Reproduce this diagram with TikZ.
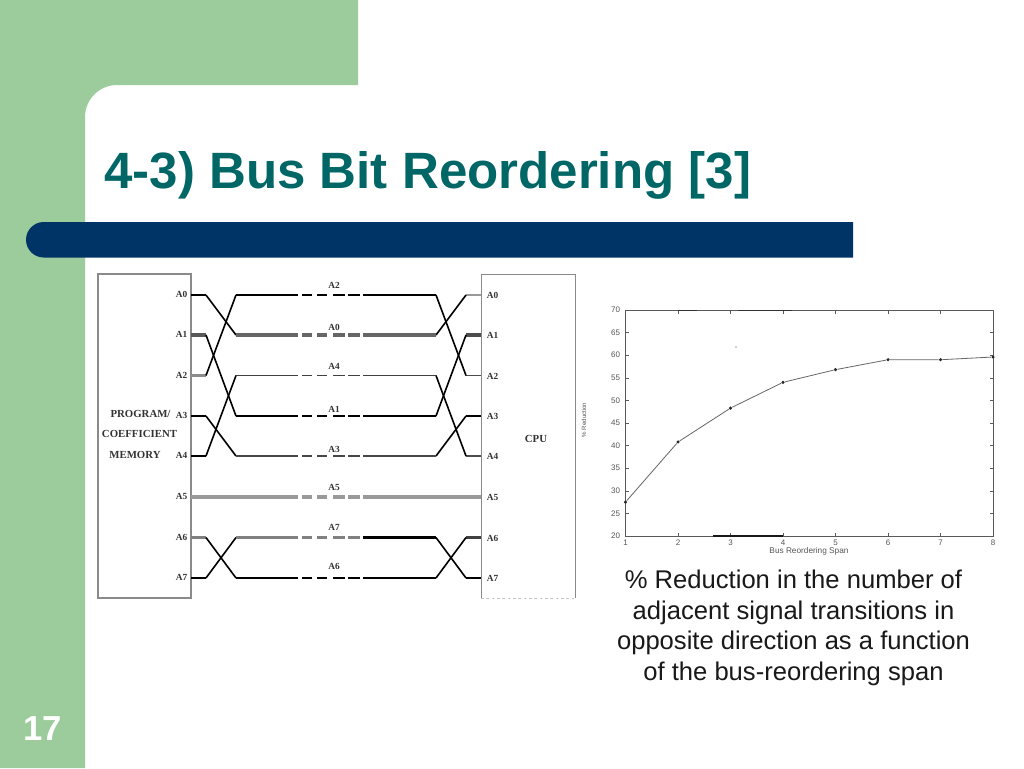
\documentclass[tikz,border=0pt]{standalone}
\usepackage{fontspec}
\setmainfont{Liberation Sans}
\newfontfamily\blurserif{Liberation Serif}
\definecolor{slidegreen}{HTML}{9CCC9C}
\definecolor{barblue}{HTML}{003366}
\definecolor{titleteal}{HTML}{006666}
\definecolor{framegray}{HTML}{8A8A8A}
\definecolor{plotgray}{HTML}{555555}
\tikzset{
  px/.style={x=0.75pt,y=-0.75pt},
  buslabel/.style={font=\blurserif\bfseries\fontsize{7pt}{7pt}\selectfont,text=black!80,inner sep=0pt},
  boxlabel/.style={font=\blurserif\bfseries\fontsize{8.1pt}{8pt}\selectfont,text=black!80,inner sep=0pt},
  cross/.style={line width=1.2pt,black,line join=round},
  midrun/.style={dash pattern=on 46.5pt off 3pt on 7.5pt off 3.75pt on 7.5pt off 4.5pt on 9pt off 2.25pt on 9pt off 2.25pt on 54.75pt},
  stub/.style={line width=#1},
  plotlabel/.style={font=\fontsize{6pt}{6pt}\selectfont,text=plotgray,inner sep=0pt},
  plotframe/.style={draw=black!65,line width=0.45pt},
  plotpt/.style={circle,fill=black!85,inner sep=0pt,minimum size=2.6pt},
}
\begin{document}
\begin{tikzpicture}[px]
\useasboundingbox (0,0) rectangle (1024,768);
% slide background
\fill[white] (0,0) rectangle (1024,768);
\fill[slidegreen] (0,0) -- (358,0) -- (358,85) -- (117,85) arc[start angle=90,end angle=180,x radius=32,y radius=-32] -- (85,768) -- (0,768) -- cycle;
\fill[barblue] (853,222) -- (853,257.5) -- (43.75,257.5) arc[start angle=-90,end angle=-270,x radius=17.75,y radius=-17.75] -- cycle;
\node[anchor=base west,inner sep=0pt,text=titleteal,font=\bfseries\fontsize{38.3pt}{40pt}\selectfont] (title) at (104,188.5) {4-3) Bus Bit Reordering [3]};
\node[anchor=base,inner sep=0pt,text=white,font=\bfseries\fontsize{26pt}{28pt}\selectfont] (pageno) at (43,740) {17};

% bus boxes
\node[draw=framegray,line width=0.8pt,minimum width=69.75pt,minimum height=243pt,inner sep=0pt] (mem) at (144.5,436) {};
\draw[framegray,line width=0.7pt] (481,598) -- (481,274) -- (575,274) -- (575,598);
\draw[framegray!50,line width=0.6pt,dash pattern=on 2pt off 2pt] (481,598) -- (575,598);

\foreach \i/\y in {0/295,1/335,2/375.5,3/416,4/456,5/497,6/537.5,7/578}{
  \coordinate (L\i) at (191,\y);
  \coordinate (B\i) at (206,\y);
  \coordinate (C\i) at (236,\y);
  \coordinate (D\i) at (436,\y);
  \coordinate (E\i) at (466,\y);
  \coordinate (R\i) at (481,\y);
  \node[buslabel] (ll\i) at (181.5,\y-0.5) {A\i};
  \node[buslabel] (rl\i) at (492.5,\y+0.5) {A\i};
}
% left stubs
\draw[stub=1.2pt,black] (L0)--(B0);
\draw[stub=2.6pt,black!65] (L1)--(B1);
\draw[stub=1.8pt,black!45] (L2)--(B2);
\draw[stub=1.4pt,black] (L3)--(B3);
\draw[stub=1.2pt,black] (L4)--(B4);
\draw[stub=2.6pt,black!40] (L5)--(C5);
\draw[stub=2.6pt,black!40] (D5)--(R5);
\draw[stub=2.4pt,black!50] (L6)--(B6);
\draw[stub=1.2pt,black] (L7)--(B7);
% right stubs
\draw[stub=1.5pt,black!40] (E0)--(R0);
\draw[stub=2.4pt,black!70] (E1)--(R1);
\draw[stub=1.2pt,black!70] (E2)--(R2);
\draw[stub=2pt,black] (E3)--(R3);
\draw[stub=1.6pt,black!70] (E4)--(R4);
\draw[stub=2.2pt,black!75] (E6)--(R6);
\draw[stub=1.2pt,black] (E7)--(R7);
% crossings left
\draw[cross] (B0)--(C1);
\draw[cross] (B1)--(C3);
\draw[cross] (B2)--(C0);
\draw[cross] (B3)--(C4);
\draw[cross] (B4)--(C2);
\draw[cross] (B6)--(C7);
\draw[cross] (B7)--(C6);
% crossings right
\draw[cross] (D0)--(E2);
\draw[cross] (D1)--(E0);
\draw[cross] (D2)--(E4);
\draw[cross] (D3)--(E1);
\draw[cross] (D4)--(E3);
\draw[cross] (D6)--(E7);
\draw[cross] (D7)--(E6);
% middle runs
\draw[midrun,line width=1.4pt,black!40,yshift=-1pt] (C0)--(D0);
\draw[midrun,line width=1.2pt,black,yshift=0.6pt] (C0)--(D0);
\draw[midrun,line width=2.5pt,black!60] (C1)--(D1);
\draw[midrun,line width=1.3pt,black!75] (C2)--(D2);
\draw[midrun,line width=2.2pt,black] (C3)--(D3);
\draw[midrun,line width=2pt,black!72] (C4)--(D4);
\draw[midrun,line width=2.6pt,black!40] (C5)--(D5);
\draw[midrun,line width=2.6pt,black!50] (C6)--(D6);
\coordinate (M6) at (363,537.5);
\draw[line width=2.4pt,black] (M6)--(D6);
\draw[midrun,line width=1.5pt,black] (C7)--(D7);
% middle labels
\node[buslabel] (m0) at (334,285) {A2};
\node[buslabel] (m1) at (334,327) {A0};
\node[buslabel] (m2) at (334,366) {A4};
\node[buslabel] (m3) at (334,409) {A1};
\node[buslabel] (m4) at (334,449) {A3};
\node[buslabel] (m5) at (334,487) {A5};
\node[buslabel] (m6) at (334,527) {A7};
\node[buslabel] (m7) at (334,566) {A6};
% box labels
\node[boxlabel,anchor=center] (p1) at (140.5,414) {PROGRAM/};
\node[boxlabel,anchor=center] (p2) at (139.5,433.5) {COEFFICIENT};
\node[boxlabel,anchor=center] (p3) at (135,455) {MEMORY};
\node[boxlabel,anchor=center] (cpu) at (536,439) {CPU};

% chart
\coordinate (o) at (625.5,536);
\coordinate (ne) at (993,310);
\draw[plotframe] (o) rectangle (ne);
\foreach \n in {1,...,8}{
  \pgfmathsetmacro{\xx}{625.5+(\n-1)*52.5}
  \draw[plotframe] (\xx,536) -- (\xx,532.5);
  \draw[plotframe] (\xx,310) -- (\xx,313.5);
  \node[plotlabel] (xt\n) at (\xx,543) {\n};
}
\foreach \v in {20,25,...,70}{
  \pgfmathsetmacro{\yy}{536-(\v-20)*4.52}
  \draw[plotframe] (625.5,\yy) -- (629,\yy);
  \draw[plotframe] (993,\yy) -- (989.5,\yy);
  \node[plotlabel] (yt\v) at (615.5,\yy) {\v};
}
\draw[black!80,line width=0.6pt] (678,310)--(697,310) (738,310)--(792,310);
\draw[black!90,line width=0.9pt] (713,536)--(783,536);
\node[plotlabel,font=\fontsize{6.2pt}{6pt}\selectfont] (xtitle) at (809,551) {Bus Reordering Span};
\node[plotlabel,rotate=90,font=\fontsize{4.6pt}{6pt}\selectfont] (ytitle) at (584,420) {\% Reduction};
\foreach \n/\v in {1/27.5,2/40.8,3/48.3,4/54,5/56.8,6/59,7/59,8/59.6}{
  \pgfmathsetmacro{\xx}{625.5+(\n-1)*52.5}
  \pgfmathsetmacro{\yy}{536-(\v-20)*4.52}
  \node[plotpt] (pt\n) at (\xx,\yy) {};
}
\draw[black!60,line width=0.6pt] (pt1)--(pt2)--(pt3)--(pt4)--(pt5)--(pt6)--(pt7)--(pt8);
\fill[black!35] (736,347) circle[radius=0.8];

% caption
\node[align=center,inner sep=0pt,text=black!90,font=\fontsize{19.2pt}{22.9pt}\selectfont] (caption) at (793.5,628) {\% Reduction in the number of\\adjacent signal transitions in\\opposite direction as a function\\of the bus-reordering span};
\end{tikzpicture}
\end{document}
